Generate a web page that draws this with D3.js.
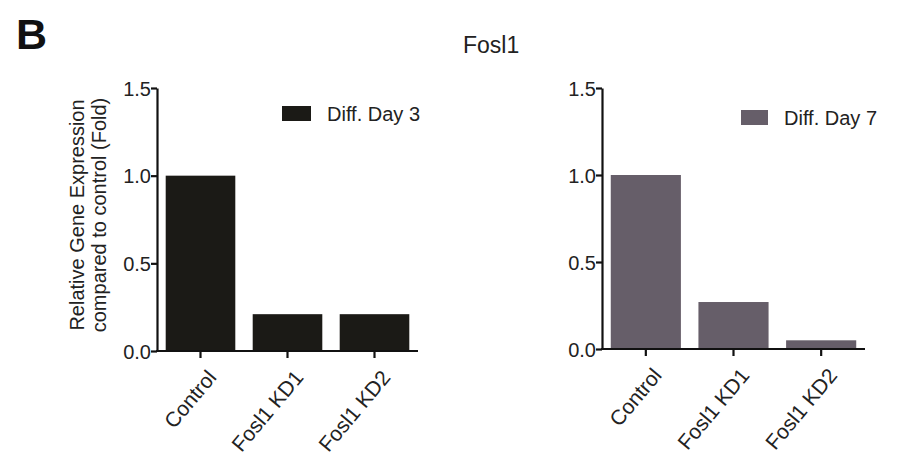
<!DOCTYPE html>
<html>
<head>
<meta charset="utf-8">
<script src="https://unpkg.com/d3@7/dist/d3.min.js"></script>
<style>
  body { margin: 0; background: #fff; }
  svg { font-family: "Liberation Sans", Arial, sans-serif; }
  .axis path, .axis line { stroke: #111; stroke-width: 2.2px; }
  .axis text { font-size: 20px; fill: #222; }
  .axis.x text { font-size: 21px; }
</style>
</head>
<body>
<script>
// data
const categories = ["Control", "Fosl1 KD1", "Fosl1 KD2"];
const day3Values = [1.0, 0.21, 0.21];
const day7Values = [1.0, 0.27, 0.05];
const seriesNames = ["Diff. Day 3", "Diff. Day 7"];
const yTicks = [0.0, 0.5, 1.0, 1.5];

const title = "Fosl1";
const yTitle = ["Relative Gene Expression", "compared to control (Fold)"];

// layout
const width = 898;
const height = 465;

const panels = [
  { values: day3Values, name: seriesNames[0], color: "#1b1a16",
    x0: 157, x1: 418, yBottom: 351, yTop: 88,
    legX: 282, legY: 106, legW: 29, legH: 15 },
  { values: day7Values, name: seriesNames[1], color: "#665e69",
    x0: 602, x1: 865, yBottom: 349, yTop: 88,
    legX: 741, legY: 110, legW: 27, legH: 15 }
];

const svg = d3.select("body").append("svg")
  .attr("width", width)
  .attr("height", height);

// panel letter
svg.append("text")
  .attr("x", 16)
  .attr("y", 49)
  .attr("font-size", 43)
  .attr("font-weight", "bold")
  .attr("fill", "#111")
  .text("B");

// title
svg.append("text")
  .attr("x", 463)
  .attr("y", 53)
  .attr("font-size", 23)
  .attr("fill", "#222")
  .text(title);

// y axis title (left panel only)
const yt = svg.append("text")
  .attr("transform", "translate(0,215) rotate(-90)")
  .attr("text-anchor", "middle")
  .attr("font-size", 20)
  .attr("fill", "#222");
yt.append("tspan").attr("x", 0).attr("y", 84).text(yTitle[0]);
yt.append("tspan").attr("x", 0).attr("y", 106).text(yTitle[1]);

panels.forEach((p) => {
  const g = svg.append("g");

  const x = d3.scaleBand()
    .domain(categories)
    .range([p.x0, p.x1])
    .paddingInner(0.2)
    .paddingOuter(0.1);

  const y = d3.scaleLinear()
    .domain([0, 1.5])
    .range([p.yBottom, p.yTop]);

  // bars
  g.selectAll("rect.bar")
    .data(p.values)
    .enter()
    .append("rect")
    .attr("class", "bar")
    .attr("x", (d, i) => x(categories[i]))
    .attr("y", (d) => y(d))
    .attr("width", x.bandwidth())
    .attr("height", (d) => y(0) - y(d))
    .attr("fill", p.color);

  // y axis
  g.append("g")
    .attr("class", "axis")
    .attr("transform", `translate(${p.x0},0)`)
    .call(d3.axisLeft(y).tickValues(yTicks).tickFormat(d3.format(".1f"))
      .tickSizeInner(6).tickSizeOuter(0).tickPadding(0))
    .call((a) => a.selectAll("text").attr("dy", "0.35em"));

  // x axis
  const xa = g.append("g")
    .attr("class", "axis x")
    .attr("transform", `translate(0,${p.yBottom})`)
    .call(d3.axisBottom(x).tickSizeInner(7).tickSizeOuter(0));
  xa.select("path.domain").attr("d", `M${p.x0 - 1},0H${p.x1}`);
  xa.selectAll("text")
    .attr("text-anchor", "end")
    .attr("y", 0)
    .attr("x", 0)
    .attr("dy", 0)
    .attr("transform", "translate(17,27) rotate(-50)");

  // legend
  g.append("rect")
    .attr("x", p.legX)
    .attr("y", p.legY)
    .attr("width", p.legW)
    .attr("height", p.legH)
    .attr("fill", p.color);
  g.append("text")
    .attr("x", p.legX + p.legW + 16)
    .attr("y", p.legY + p.legH)
    .attr("font-size", 20)
    .attr("fill", "#222")
    .text(p.name);
});
</script>
</body>
</html>
